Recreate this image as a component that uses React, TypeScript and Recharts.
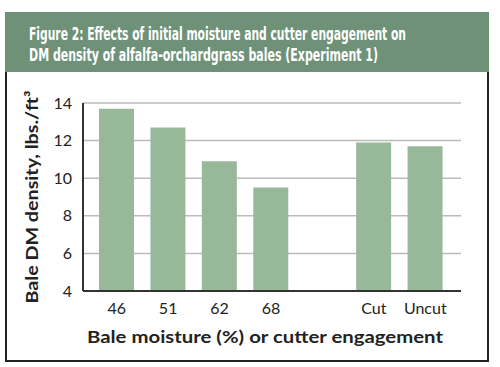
import React from 'react'
import { BarChart, Bar, XAxis, YAxis, CartesianGrid, Label } from 'recharts'

const titleLines = [
  'Figure 2: Effects of initial moisture and cutter engagement on',
  'DM density of alfalfa-orchardgrass bales (Experiment 1)',
]
const categories = ['46', '51', '62', '68', '', 'Cut', 'Uncut']
const densities = [13.7, 12.7, 10.9, 9.5, null, 11.9, 11.7]
const yTicks = [4, 6, 8, 10, 12, 14]
const yTitle = 'Bale DM density, lbs./ft³'
const xTitle = 'Bale moisture (%) or cutter engagement'

const data = categories.map((name, i) => ({ name, density: densities[i] }))

const labelFont = { fontFamily: 'Lato', fontWeight: 700, fontSize: 17, fill: '#222' }
const tickFont = { fontFamily: 'Lato', fontSize: 16, fill: '#222' }
const titleFont = "'DejaVu Sans Condensed', 'Roboto', 'Liberation Sans', sans-serif"

const YTitle = (props: any) => {
  const vb = props.viewBox || { x: 0, y: 103, width: 83, height: 188 }
  const cx = vb.x + 38
  const cy = vb.y + vb.height / 2
  return (
    <text x={cx} y={cy} textAnchor="middle" transform={`rotate(-90, ${cx}, ${cy})`}
      textLength={213} lengthAdjust="spacingAndGlyphs" {...labelFont}>
      {yTitle}
    </text>
  )
}

const XTitle = (props: any) => {
  const vb = props.viewBox || { x: 83, y: 291, width: 378, height: 76 }
  const cx = vb.x + vb.width / 2 - 7
  const cy = vb.y + 52
  return (
    <text x={cx} y={cy} textAnchor="middle" textLength={356} lengthAdjust="spacingAndGlyphs" {...labelFont}>
      {xTitle}
    </text>
  )
}

const App = () => {
  return (
    <div style={{ position: 'absolute', left: 0, top: 0, width: 500, height: 367, background: '#fff', overflow: 'hidden' }}>
      <div style={{ position: 'absolute', left: 5, top: 12, width: 480, height: 346, border: '2px solid #222' }} />
      <svg style={{ position: 'absolute', left: 5, top: 12 }} width={484} height={60}>
        <rect width={484} height={60} fill="#6e9178" />
        <g transform="translate(24, 27.5) scale(1, 1.18)">
          <text x={0} y={0} fill="#fff" fontFamily={titleFont} fontWeight={700} fontSize={14.2}
            textLength={377} lengthAdjust="spacingAndGlyphs">
            {titleLines[0]}
          </text>
        </g>
        <g transform="translate(24, 49) scale(1, 1.18)">
          <text x={0} y={0} fill="#fff" fontFamily={titleFont} fontWeight={700} fontSize={14.2}
            textLength={349} lengthAdjust="spacingAndGlyphs">
            {titleLines[1]}
          </text>
        </g>
      </svg>
      <div style={{ position: 'absolute', left: 0, top: 0 }}>
        <BarChart width={500} height={367} data={data} margin={{ top: 103, right: 39, bottom: 0, left: 0 }} barSize={35}>
          <CartesianGrid vertical={false} stroke="#bbbbbb" strokeWidth={1.5} />
          <XAxis dataKey="name" height={76} padding={{ left: 8, right: 10 }} tickLine={false} tickSize={0}
            tickMargin={12} tick={tickFont} axisLine={{ stroke: '#333', strokeWidth: 2 }} interval={0}>
            <Label content={XTitle} />
          </XAxis>
          <YAxis width={83} domain={[4, 14]} ticks={yTicks} tickLine={false} tickSize={0} tickMargin={11}
            tick={tickFont} axisLine={{ stroke: '#333', strokeWidth: 2 }}>
            <Label content={YTitle} />
          </YAxis>
          <YAxis yAxisId="r" orientation="right" width={0} domain={[4, 14]} tick={false} tickLine={false}
            axisLine={{ stroke: '#333', strokeWidth: 2 }} />
          <Bar dataKey="density" fill="#98b89a" isAnimationActive={false} />
        </BarChart>
      </div>
    </div>
  )
}

export default App
